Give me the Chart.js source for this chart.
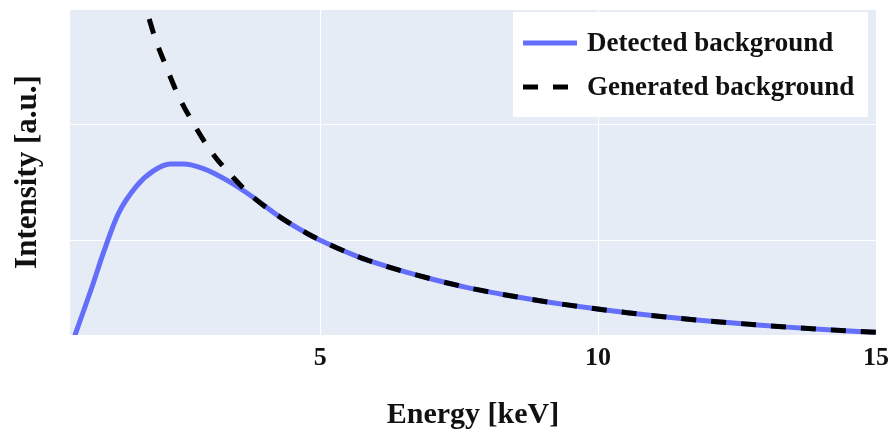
<!DOCTYPE html>
<html>
<head>
<meta charset="utf-8">
<script src="https://cdn.jsdelivr.net/npm/chart.js@4"></script>
<style>
  html, body { margin: 0; padding: 0; background: #fff; }
  #wrap { width: 891px; height: 437px; }
</style>
</head>
<body>
<div id="wrap"><canvas id="chart"></canvas></div>
<script>
// Datos (unidades arbitrarias de intensidad)
const energiaDetectado = [0.50, 0.59, 0.92, 1.10, 1.37, 1.70, 2.00, 2.30, 2.54, 2.90, 3.32, 3.80, 4.28, 4.76, 5.00, 5.72, 5.96, 6.50, 7.04, 7.65, 8.24, 8.84, 9.38, 9.99, 10.53, 11.13, 11.72, 12.33, 12.87, 13.47, 14.06, 14.68, 15.00];
const intensidadDetectado = [0.06, 0.18, 0.63, 0.89, 1.23, 1.47, 1.60, 1.66, 1.66, 1.62, 1.52, 1.37, 1.20, 1.06, 1.00, 0.85, 0.81, 0.73, 0.66, 0.59, 0.535, 0.485, 0.445, 0.405, 0.373, 0.34, 0.312, 0.288, 0.267, 0.246, 0.228, 0.211, 0.203];

const energiaGenerado = [1.76, 1.87, 2.03, 2.24, 2.45, 2.72, 3.05, 3.44, 3.80, 4.28, 4.76, 5.00, 5.72, 5.96, 6.50, 7.04, 7.65, 8.24, 8.84, 9.38, 9.99, 10.53, 11.13, 11.72, 12.33, 12.87, 13.47, 14.06, 14.68, 15.00];
const intensidadGenerado = [3.16, 3.00, 2.75, 2.49, 2.25, 2.01, 1.76, 1.54, 1.37, 1.20, 1.06, 1.00, 0.85, 0.81, 0.73, 0.66, 0.59, 0.535, 0.485, 0.445, 0.405, 0.373, 0.34, 0.312, 0.288, 0.267, 0.246, 0.228, 0.211, 0.203];

const ticksEnergia = [5, 10, 15];
const ticksIntensidad = [1, 2, 3];

const FUENTE = '"Liberation Serif", "DejaVu Serif", serif';

const toPoints = (xs, ys) => xs.map((x, i) => ({ x: x, y: ys[i] }));

// Fondo del área de trazado
const fondoPlot = {
    id: 'fondoPlot',
    beforeDraw(chart) {
        const { ctx, chartArea: a } = chart;
        ctx.save();
        ctx.fillStyle = '#E5ECF6';
        ctx.fillRect(a.left, a.top, a.right - a.left, a.bottom - a.top);
        ctx.restore();
    }
};

// Leyenda dentro del área de trazado (esquina superior derecha)
const leyendaInterna = {
    id: 'leyendaInterna',
    afterDraw(chart) {
        const { ctx, chartArea: a } = chart;
        const right = a.right - 8;
        const top = a.top + 3;
        const width = 355, height = 105;
        const left = right - width;
        ctx.save();
        ctx.fillStyle = '#ffffff';
        ctx.fillRect(left, top, width, height);
        ctx.font = 'bold 27px ' + FUENTE;
        ctx.textBaseline = 'middle';
        ctx.fillStyle = '#111';
        chart.data.datasets.forEach((ds, i) => {
            const y = top + 31 + i * 44;
            ctx.beginPath();
            ctx.strokeStyle = ds.borderColor;
            ctx.lineWidth = ds.borderWidth;
            ctx.setLineDash(ds.borderDash || []);
            ctx.moveTo(left + 10, y);
            ctx.lineTo(left + 64, y);
            ctx.stroke();
            ctx.setLineDash([]);
            ctx.fillText(ds.label, left + 74, y + 1);
        });
        ctx.restore();
    }
};

new Chart(document.getElementById('chart'), {
    type: 'line',
    data: {
        datasets: [{
            label: 'Detected background',
            data: toPoints(energiaDetectado, intensidadDetectado),
            borderColor: '#636EFA',
            borderWidth: 5,
            pointRadius: 0,
            cubicInterpolationMode: 'monotone',
            fill: false,
            order: 1
        }, {
            label: 'Generated background',
            data: toPoints(energiaGenerado, intensidadGenerado),
            borderColor: '#000000',
            borderWidth: 5,
            borderDash: [15, 15],
            pointRadius: 0,
            cubicInterpolationMode: 'monotone',
            fill: false,
            order: 0
        }]
    },
    options: {
        responsive: true,
        maintainAspectRatio: false,
        animation: false,
        layout: { padding: { top: 9, right: 15, left: 0, bottom: 0 } },
        plugins: {
            legend: { display: false },
            tooltip: { enabled: false }
        },
        scales: {
            x: {
                type: 'linear',
                min: 0.5,
                max: 15,
                afterBuildTicks: axis => { axis.ticks = ticksEnergia.map(v => ({ value: v })); },
                afterFit: scale => {
                    scale.height = 102;
                    scale.paddingLeft = 0;
                    scale.paddingRight = 0;
                },
                grid: { color: '#ffffff', lineWidth: 1, drawTicks: false },
                border: { display: false },
                ticks: {
                    padding: 8,
                    color: '#111',
                    font: { family: FUENTE, size: 26, weight: 'bold' }
                },
                title: {
                    display: true,
                    text: 'Energy [keV]',
                    color: '#111',
                    font: { family: FUENTE, size: 30, weight: 'bold' },
                    padding: { top: 0, bottom: 4 }
                }
            },
            y: {
                type: 'linear',
                min: 0.18,
                max: 3,
                afterBuildTicks: axis => { axis.ticks = ticksIntensidad.map(v => ({ value: v })); },
                afterFit: scale => { scale.width = 70; },
                grid: { color: '#ffffff', lineWidth: 1, drawTicks: false },
                border: { display: false },
                ticks: { display: false },
                title: {
                    display: true,
                    text: 'Intensity [a.u.]',
                    color: '#111',
                    font: { family: FUENTE, size: 31, weight: 'bold' },
                    padding: { top: 9, bottom: 0 }
                }
            }
        }
    },
    plugins: [fondoPlot, leyendaInterna]
});
</script>
</body>
</html>
